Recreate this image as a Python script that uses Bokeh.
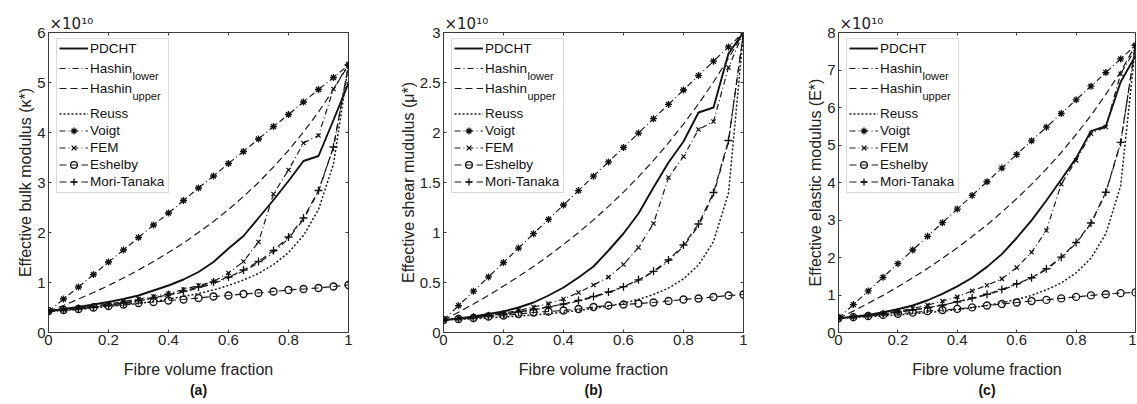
from bokeh.plotting import figure
from bokeh.models import (Range1d, FixedTicker, NumeralTickFormatter, LinearAxis,
                          Legend, LegendItem, Label, BoxAnnotation, Title)
from bokeh.layouts import row
from bokeh.embed import file_html
from bokeh.resources import INLINE

# ---------------- data (values in units of 1e10 Pa) ----------------
fibre_volume_fraction = [0.0, 0.05, 0.1, 0.15, 0.2, 0.25, 0.3, 0.35, 0.4, 0.45, 0.5,
                         0.55, 0.6, 0.65, 0.7, 0.75, 0.8, 0.85, 0.9, 0.95, 1.0]

x_ticks = [0, 0.2, 0.4, 0.6, 0.8, 1.0]
bulk_ticks = [0, 1, 2, 3, 4, 5, 6]
shear_ticks = [0, 0.5, 1, 1.5, 2, 2.5, 3]
elastic_ticks = [0, 1, 2, 3, 4, 5, 6, 7, 8]

legend_labels = ["PDCHT", "Hashin", "Hashin", "Reuss", "Voigt", "FEM", "Eshelby", "Mori-Tanaka"]
legend_subscripts = ["lower", "upper"]

# (a) bulk modulus
bulk_pdcht = [0.43, 0.47, 0.51, 0.56, 0.61, 0.67, 0.74, 0.84, 0.94, 1.06, 1.21,
              1.41, 1.68, 1.93, 2.29, 2.65, 3.03, 3.43, 3.53, 4.25, 4.99]
bulk_hashin_lower = [0.42, 0.45, 0.48, 0.51, 0.55, 0.59, 0.63, 0.68, 0.74, 0.81, 0.89,
                     0.98, 1.09, 1.23, 1.39, 1.60, 1.88, 2.26, 2.82, 3.71, 5.35]
bulk_hashin_upper = [0.42, 0.54, 0.67, 0.80, 0.94, 1.09, 1.25, 1.42, 1.60, 1.79, 2.00,
                     2.22, 2.46, 2.72, 3.00, 3.31, 3.64, 4.01, 4.41, 4.86, 5.35]
bulk_reuss = [0.42, 0.44, 0.46, 0.49, 0.52, 0.55, 0.58, 0.62, 0.67, 0.72, 0.78,
              0.85, 0.94, 1.05, 1.18, 1.36, 1.60, 1.94, 2.46, 3.37, 5.35]
bulk_voigt = [0.42, 0.67, 0.91, 1.16, 1.41, 1.65, 1.90, 2.15, 2.39, 2.64, 2.89,
              3.13, 3.38, 3.62, 3.87, 4.12, 4.36, 4.61, 4.86, 5.10, 5.35]
bulk_fem = [0.43, 0.46, 0.49, 0.53, 0.57, 0.62, 0.67, 0.72, 0.78, 0.86, 0.94,
            1.02, 1.19, 1.42, 1.81, 2.77, 3.25, 3.79, 3.94, 4.87, 5.37]
bulk_eshelby = [0.43, 0.45, 0.47, 0.50, 0.53, 0.56, 0.59, 0.61, 0.64, 0.66, 0.69,
                0.72, 0.74, 0.77, 0.79, 0.82, 0.85, 0.87, 0.89, 0.92, 0.95]
bulk_mori_tanaka = [0.42, 0.45, 0.48, 0.51, 0.55, 0.59, 0.64, 0.69, 0.76, 0.83, 0.91,
                    1.01, 1.11, 1.25, 1.42, 1.64, 1.91, 2.29, 2.84, 3.71, 5.35]

# (b) shear modulus
shear_pdcht = [0.125, 0.14, 0.16, 0.185, 0.21, 0.25, 0.30, 0.37, 0.45, 0.55, 0.66,
               0.82, 0.99, 1.19, 1.45, 1.70, 1.91, 2.20, 2.25, 2.79, 3.0]
shear_hashin_lower = [0.125, 0.138, 0.152, 0.168, 0.186, 0.205, 0.227, 0.252, 0.281, 0.314, 0.353,
                      0.399, 0.453, 0.521, 0.605, 0.715, 0.861, 1.067, 1.379, 1.908, 3.0]
shear_hashin_upper = [0.125, 0.203, 0.286, 0.372, 0.464, 0.559, 0.66, 0.767, 0.88, 0.999, 1.126,
                      1.261, 1.404, 1.557, 1.721, 1.896, 2.084, 2.286, 2.505, 2.742, 3.0]
shear_reuss = [0.125, 0.131, 0.138, 0.146, 0.155, 0.164, 0.175, 0.188, 0.203, 0.22, 0.24,
               0.264, 0.294, 0.331, 0.38, 0.444, 0.536, 0.674, 0.909, 1.395, 3.0]
shear_voigt = [0.125, 0.269, 0.413, 0.556, 0.70, 0.844, 0.988, 1.131, 1.275, 1.419, 1.563,
               1.706, 1.85, 1.994, 2.138, 2.281, 2.425, 2.569, 2.713, 2.856, 3.0]
shear_fem = [0.125, 0.14, 0.155, 0.175, 0.195, 0.22, 0.255, 0.29, 0.335, 0.40, 0.475,
             0.553, 0.68, 0.85, 1.09, 1.55, 1.76, 2.03, 2.11, 2.65, 3.0]
shear_eshelby = [0.125, 0.135, 0.145, 0.16, 0.17, 0.185, 0.20, 0.21, 0.22, 0.235, 0.255,
                 0.27, 0.28, 0.29, 0.30, 0.315, 0.33, 0.34, 0.355, 0.37, 0.38]
shear_mori_tanaka = [0.125, 0.138, 0.152, 0.168, 0.186, 0.206, 0.23, 0.256, 0.285, 0.32, 0.36,
                     0.405, 0.458, 0.527, 0.612, 0.725, 0.875, 1.085, 1.40, 1.92, 3.0]

# (c) elastic modulus
elastic_pdcht = [0.38, 0.42, 0.47, 0.54, 0.62, 0.72, 0.86, 1.03, 1.23, 1.46, 1.75,
                 2.09, 2.52, 2.99, 3.52, 4.08, 4.65, 5.37, 5.50, 6.68, 7.38]
elastic_hashin_lower = [0.38, 0.41, 0.45, 0.49, 0.54, 0.60, 0.66, 0.73, 0.81, 0.90, 1.01,
                        1.13, 1.28, 1.45, 1.68, 1.99, 2.38, 2.90, 3.72, 5.05, 7.66]
elastic_hashin_upper = [0.38, 0.57, 0.78, 0.99, 1.22, 1.46, 1.71, 1.98, 2.26, 2.56, 2.87,
                        3.21, 3.57, 3.95, 4.36, 4.80, 5.28, 5.79, 6.35, 6.95, 7.66]
elastic_reuss = [0.38, 0.40, 0.42, 0.44, 0.47, 0.50, 0.53, 0.57, 0.61, 0.66, 0.72,
                 0.80, 0.88, 0.99, 1.14, 1.32, 1.59, 1.98, 2.63, 3.91, 7.66]
elastic_voigt = [0.38, 0.744, 1.108, 1.472, 1.836, 2.2, 2.564, 2.928, 3.292, 3.656, 4.02,
                 4.384, 4.748, 5.112, 5.476, 5.84, 6.204, 6.568, 6.932, 7.296, 7.66]
elastic_fem = [0.38, 0.42, 0.46, 0.51, 0.57, 0.64, 0.73, 0.84, 0.95, 1.11, 1.26,
               1.43, 1.73, 2.14, 2.72, 3.96, 4.59, 5.30, 5.48, 6.90, 7.56]
elastic_eshelby = [0.38, 0.41, 0.44, 0.47, 0.50, 0.53, 0.57, 0.60, 0.63, 0.67, 0.72,
                   0.76, 0.80, 0.84, 0.87, 0.91, 0.95, 0.99, 1.02, 1.05, 1.07]
elastic_mori_tanaka = [0.38, 0.41, 0.45, 0.50, 0.55, 0.60, 0.66, 0.73, 0.82, 0.92, 1.02,
                       1.15, 1.30, 1.46, 1.70, 2.01, 2.40, 2.92, 3.74, 5.07, 7.66]

# ---------------- styling ----------------
AX = "#3a3a3a"
FONT = "Liberation Sans"
INK = "#111111"
FRAME_H = 300

STYLES = [
    dict(width=1.9, dash="solid", marker=None),          # PDCHT
    dict(width=1.2, dash="6 3 1 3", marker=None),        # Hashin lower
    dict(width=1.2, dash="7 4", marker=None),            # Hashin upper
    dict(width=1.5, dash="2 2", marker=None),            # Reuss
    dict(width=1.2, dash="6 3 1 3", marker="asterisk", size=7),
    dict(width=1.2, dash="6 3 1 3", marker="x", size=6),
    dict(width=1.2, dash="7 4", marker="circle", size=7),
    dict(width=1.2, dash="7 4", marker="cross", size=8),
]


def style_axis(ax, standoff, labels=True):
    ax.axis_line_color = None
    ax.major_tick_line_color = AX
    ax.major_tick_in = 3
    ax.major_tick_out = 0
    ax.minor_tick_line_color = None
    ax.major_label_text_font = FONT
    ax.major_label_standoff = standoff
    if labels:
        ax.major_label_text_font_size = "15px"
        ax.major_label_text_color = "#222222"
    else:
        ax.major_label_text_font_size = "1px"
        ax.major_label_text_color = None
    ax.axis_label_text_font = FONT
    ax.axis_label_text_font_size = "16px"
    ax.axis_label_text_font_style = "normal"
    ax.axis_label_text_color = "#222222"


def make_panel(series, y_label, ymax, y_ticks, tag, frame_w, left, right, right_axis=True):
    p = figure(frame_width=frame_w, frame_height=FRAME_H,
               x_range=Range1d(0, 1), y_range=Range1d(0, ymax),
               output_backend="svg", toolbar_location=None,
               min_border_left=left, min_border_right=right,
               min_border_top=32, min_border_bottom=71)
    p.grid.visible = False
    p.outline_line_color = AX
    p.outline_line_width = 1
    p.background_fill_color = "white"
    p.border_fill_color = "white"

    fmt = NumeralTickFormatter(format="0.[0]")
    p.xaxis.ticker = FixedTicker(ticks=x_ticks)
    p.yaxis.ticker = FixedTicker(ticks=y_ticks)
    p.xaxis.formatter = fmt
    p.yaxis.formatter = fmt
    p.xaxis.axis_label = "Fibre volume fraction"
    p.yaxis.axis_label = y_label
    style_axis(p.xaxis[0], 2)
    style_axis(p.yaxis[0], 3)
    p.xaxis.axis_label_standoff = 13
    p.yaxis.axis_label_standoff = 0

    top = LinearAxis(ticker=FixedTicker(ticks=x_ticks))
    style_axis(top, 0, labels=False)
    p.add_layout(top, "above")
    if right_axis:
        rgt = LinearAxis(ticker=FixedTicker(ticks=y_ticks))
        style_axis(rgt, 0, labels=False)
        p.add_layout(rgt, "right")

    # exponent marker above the axes and the panel tag below
    p.add_layout(Title(text="×10¹⁰", align="left", offset=1, standoff=0,
                       vertical_align="bottom", text_font="DejaVu Sans",
                       text_font_size="15px", text_font_style="normal",
                       text_color="#222222"), "above")
    p.add_layout(Title(text=tag, align="center", standoff=3, vertical_align="top",
                       text_font=FONT, text_font_size="14px", text_font_style="bold",
                       text_color="#111111"), "below")

    items = []
    for ys, st, name in zip(series, STYLES, legend_labels):
        rs = [p.line(fibre_volume_fraction, ys, line_color=INK if st["width"] > 1.5 else "#1a1a1a",
                     line_width=st["width"], line_dash=st["dash"])]
        if st["marker"]:
            rs.append(p.scatter(fibre_volume_fraction, ys, marker=st["marker"], size=st["size"],
                                line_color=INK, fill_color=None, line_width=1.3))
        items.append(LegendItem(label=name, renderers=rs))

    # helpers: pixel offsets inside the frame -> data coordinates
    def fx(px):
        return px / frame_w

    def fy(py):
        return ymax * (1 - py / FRAME_H)

    box = BoxAnnotation(left=fx(8), right=fx(120), top=fy(6), bottom=fy(160),
                        fill_color="white", fill_alpha=1.0,
                        line_color="#808080", line_width=1)
    p.add_layout(box)

    common = dict(padding=0, spacing=0, glyph_width=29, label_standoff=2, margin=0,
                  label_text_font=FONT, label_text_font_size="13.5px", label_text_color="#111111",
                  border_line_color=None, background_fill_alpha=0)
    leg_a = Legend(items=items[:3], location=(11, 234), glyph_height=20, label_height=20, **common)
    leg_b = Legend(items=items[3:], location=(11, 142), glyph_height=17, label_height=17, **common)
    p.add_layout(leg_a)
    p.add_layout(leg_b)

    for sub, py in zip(legend_subscripts, [43, 63]):
        p.add_layout(Label(x=fx(84), y=fy(py), text=sub, text_font=FONT, text_font_size="11px",
                           text_baseline="middle", text_color="#111111"))
    return p


pa = make_panel([bulk_pdcht, bulk_hashin_lower, bulk_hashin_upper, bulk_reuss, bulk_voigt,
                 bulk_fem, bulk_eshelby, bulk_mori_tanaka],
                "Effective bulk modulus (κ*)", 6, bulk_ticks, "(a)", 300, 48, 45)
pb = make_panel([shear_pdcht, shear_hashin_lower, shear_hashin_upper, shear_reuss, shear_voigt,
                 shear_fem, shear_eshelby, shear_mori_tanaka],
                "Effective shear mudulus (μ*)", 3, shear_ticks, "(b)", 300, 50, 55)
pc = make_panel([elastic_pdcht, elastic_hashin_lower, elastic_hashin_upper, elastic_reuss,
                 elastic_voigt, elastic_fem, elastic_eshelby, elastic_mori_tanaka],
                "Effective elastic modulus (E*)", 8, elastic_ticks, "(c)", 297, 40, 1,
                right_axis=False)

layout = row(pa, pb, pc)
open("out.html", "w").write(file_html(layout, INLINE))
